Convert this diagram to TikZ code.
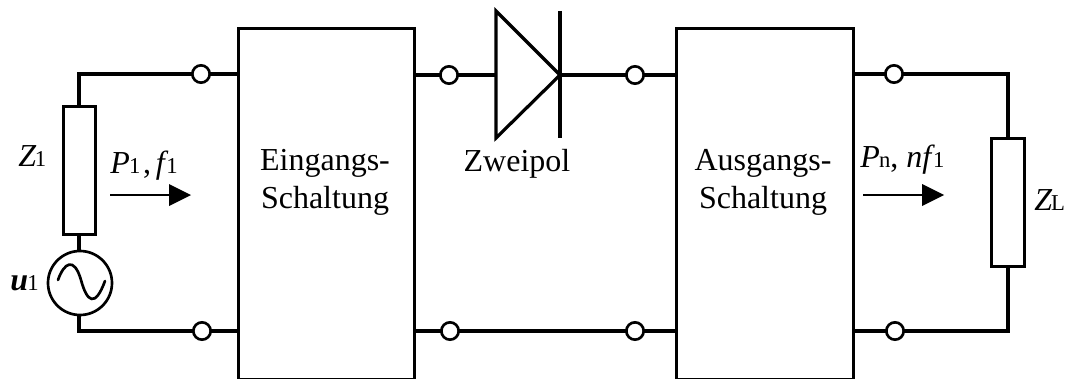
\documentclass[tikz,border=0pt]{standalone}
\usepackage{fontspec}
\setmainfont{Liberation Serif}
\tikzset{
  wire/.style={line width=2.4pt,line cap=butt,line join=miter},
  block/.style={draw,line width=2.4pt,fill=white,inner sep=0pt},
  term/.style={circle,draw,line width=2pt,fill=white,minimum size=13pt,inner sep=0pt},
  lbl/.style={inner sep=0pt,font=\fontsize{24}{28.5}\selectfont,align=center},
  lbb/.style={lbl,anchor=base west},
  flow/.style={line width=2.2pt},
  head/.style={fill=black,draw=none}
}
\newcommand{\sbs}[1]{{\fontsize{17}{18}\selectfont #1}}
\begin{document}
\begin{tikzpicture}[x=0.75pt,y=-0.75pt]
\useasboundingbox (0,0) rectangle (1066,378);
% blocks
\node[block,anchor=north west,minimum width=132pt,minimum height=263.5pt] (ein) at (237,27) {};
\node[block,anchor=north west,minimum width=132.5pt,minimum height=263.5pt] (aus) at (675,27) {};
% corners and free ends
\coordinate (ctl) at (79,74);
\coordinate (cbl) at (79,331);
\coordinate (ctr) at (1008,74);
\coordinate (cbr) at (1008,331);
\coordinate (da) at (496,75);
\coordinate (dk) at (560,75);
\coordinate (dat) at (496,11);
\coordinate (dab) at (496,138);
\coordinate (dkt) at (560,11);
\coordinate (dkb) at (560,138);
\coordinate (af1) at (110,195);
\coordinate (at1) at (191,195);
\coordinate (af2) at (863,195);
\coordinate (at2) at (944,195);
% components
\node[block,minimum width=24.5pt,minimum height=96.5pt] (zq) at (79.5,170.5) {};
\node[block,minimum width=24.5pt,minimum height=96.5pt] (zl) at (1008,202.5) {};
\node[circle,draw,line width=2pt,minimum size=48pt,inner sep=0pt] (src) at (80,283) {};
% wires
\draw[wire] (ctl -| ein.west) -- (ctl) -- (ctl |- zq.north);
\draw[wire] (zq.south -| ctl) -- (ctl |- src.north);
\draw[wire] (ctl |- src.south) -- (cbl) -- (cbl -| ein.west);
\draw[wire] (ein.east |- dk) -- (da);
\draw[wire] (dk) -- (aus.west |- dk);
\draw[wire] (ein.east |- cbl) -- (aus.west |- cbl);
\draw[wire] (aus.east |- ctr) -- (ctr) -- (zl.north);
\draw[wire] (zl.south) -- (cbr) -- (aus.east |- cbr);
% terminals
\node[term] (t1) at (201,74) {};
\node[term] (t2) at (202,331) {};
\node[term] (t3) at (449,75) {};
\node[term] (t4) at (450,331) {};
\node[term] (t5) at (635,75) {};
\node[term] (t6) at (635,331) {};
\node[term] (t7) at (894,74) {};
\node[term] (t8) at (895,331) {};
% diode
\draw[wire,miter limit=20] (dat) -- (dk) -- (dab) -- cycle;
\draw[wire] (dkt) -- (dkb);
% sine
\draw[line width=2pt,line cap=round] (58,280) .. controls (64,263) and (74,256) .. (81,280) .. controls (87,302) and (95,308) .. (105,281);
% flow arrows
\draw[flow] (af1) -- (170,195);
\fill[head] (at1) -- (169,184) -- (169,206) -- cycle;
\draw[flow] (af2) -- (923,195);
\fill[head] (at2) -- (922,184) -- (922,206) -- cycle;
% labels
\node[lbl,anchor=base] (l1) at (325,170) {Eingangs-};
\node[lbl,anchor=base] (l2) at (325,208) {Schaltung};
\node[lbl,anchor=base] (l3) at (517,171) {Zweipol};
\node[lbl,anchor=base] (l4) at (763,170) {Ausgangs-};
\node[lbl,anchor=base] (l5) at (763,208) {Schaltung};
\node[lbb] (zqt) at (18,166) {\textit{Z}\kern-1pt\sbs{1}};
\node[lbb] (pt) at (110,173) {\textit{P}\kern-0.5pt\sbs{1}\kern2pt,\kern3.5pt\textit{f}\kern-1.5pt\sbs{1}};
\node[lbb] (ut) at (10,290) {\textbf{\textit{u}}\kern-0.5pt\sbs{1}};
\node[lbb] (pn) at (860,167) {\textit{P}\kern-0.5pt\sbs{n}, \textit{nf}\kern-1.5pt\sbs{1}};
\node[lbb] (zlt) at (1034,210) {\textit{Z}\kern-1pt\sbs{L}};
\end{tikzpicture}
\end{document}
